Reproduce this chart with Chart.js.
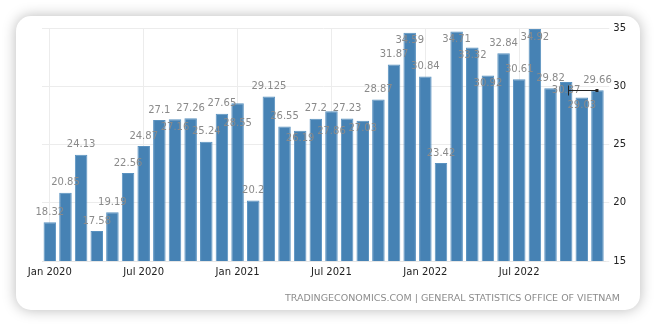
<!DOCTYPE html>
<html>
<head>
<meta charset="utf-8">
<script src="https://cdn.jsdelivr.net/npm/chart.js@4"></script>
<style>
  html, body { margin: 0; padding: 0; background: #fff; }
  #card {
    position: absolute; left: 16px; top: 16px; width: 624px; height: 294px;
    background: #fff; border-radius: 15px;
    box-shadow: 0 0 14px rgba(0,0,0,0.28);
  }
  #wrap { position: absolute; left: 0; top: 0; width: 624px; height: 294px; }
  #source {
    position: absolute; right: 20px; top: 276px;
    font: 9.5px "DejaVu Sans", sans-serif; color: #8c8c8c; white-space: nowrap;
  }
</style>
</head>
<body>
<div id="card">
  <div id="wrap"><canvas id="myChart"></canvas></div>
  <div id="source">TRADINGECONOMICS.COM | GENERAL STATISTICS OFFICE OF VIETNAM</div>
</div>
<script>
const months = [
  'Jan 2020', 'Feb 2020', 'Mar 2020', 'Apr 2020', 'May 2020', 'Jun 2020',
  'Jul 2020', 'Aug 2020', 'Sep 2020', 'Oct 2020', 'Nov 2020', 'Dec 2020',
  'Jan 2021', 'Feb 2021', 'Mar 2021', 'Apr 2021', 'May 2021', 'Jun 2021',
  'Jul 2021', 'Aug 2021', 'Sep 2021', 'Oct 2021', 'Nov 2021', 'Dec 2021',
  'Jan 2022', 'Feb 2022', 'Mar 2022', 'Apr 2022', 'May 2022', 'Jun 2022',
  'Jul 2022', 'Aug 2022', 'Sep 2022', 'Oct 2022', 'Nov 2022', 'Dec 2022'
];
const values = [
  18.32, 20.85, 24.13, 17.58, 19.19, 22.56,
  24.87, 27.1, 27.16, 27.26, 25.24, 27.65,
  28.55, 20.2, 29.125, 26.55, 26.19, 27.2,
  27.86, 27.23, 27.03, 28.87, 31.87, 34.59,
  30.84, 23.42, 34.71, 33.32, 30.92, 32.84,
  30.61, 34.92, 29.82, 30.37, 29.03, 29.66
];
const shownTicks = ['Jan 2020', 'Jul 2020', 'Jan 2021', 'Jul 2021', 'Jan 2022', 'Jul 2022'];
const yTicks = [15, 20, 25, 30, 35];

const labelFont = '10px "DejaVu Sans", sans-serif';

// value labels, pushed inside the bar when they would overlap a neighbour
const barLabels = {
  id: 'barLabels',
  afterDatasetsDraw(chart) {
    const ctx = chart.ctx;
    const area = chart.chartArea;
    const bars = chart.getDatasetMeta(0).data;
    const placed = [];
    ctx.save();
    ctx.font = labelFont;
    ctx.fillStyle = '#8a8a8a';
    ctx.textAlign = 'center';
    ctx.textBaseline = 'middle';
    bars.forEach((bar, i) => {
      const txt = String(values[i]);
      const w = ctx.measureText(txt).width;
      const tries = [bar.y - 10, bar.y + 8, bar.y + 20].filter(t => t - 6 >= area.top);
      let y = tries[0];
      for (const t of tries) {
        const hit = placed.some(p => Math.abs(p.x - bar.x) < (p.w + w) / 2 && Math.abs(p.y - t) < 11);
        if (!hit) { y = t; break; }
      }
      placed.push({ x: bar.x, y: y, w: w });
      ctx.fillText(txt, bar.x, y);
    });

    // last value marker
    const last = bars[bars.length - 1];
    const ly = Math.round(last.y) + 0.5;
    ctx.strokeStyle = '#222';
    ctx.lineWidth = 1;
    ctx.beginPath();
    ctx.moveTo(last.x - 29, ly);
    ctx.lineTo(last.x, ly);
    ctx.moveTo(Math.round(last.x - 29) + 0.5, ly - 5);
    ctx.lineTo(Math.round(last.x - 29) + 0.5, ly + 5);
    ctx.stroke();
    ctx.fillStyle = '#222';
    ctx.fillRect(last.x - 2, ly - 1.5, 3, 3);
    ctx.restore();
  }
};

new Chart(document.getElementById('myChart'), {
  type: 'bar',
  data: {
    labels: months,
    datasets: [{
      data: values,
      backgroundColor: '#4682b4',
      borderColor: '#5a92c0',
      borderWidth: 1,
      barPercentage: 0.8,
      categoryPercentage: 1
    }]
  },
  options: {
    responsive: true,
    maintainAspectRatio: false,
    animation: false,
    layout: { padding: { left: 26, right: 10, top: 12, bottom: 27 } },
    plugins: { legend: { display: false }, tooltip: { enabled: false } },
    scales: {
      x: {
        grid: {
          color: c => shownTicks.includes(months[c.index]) ? '#ececec' : 'rgba(0,0,0,0)',
          drawTicks: false,
          offset: false
        },
        border: { display: true, color: '#e6e6e6' },
        ticks: {
          autoSkip: false,
          maxRotation: 0,
          padding: 5,
          color: '#222',
          font: { family: 'DejaVu Sans', size: 10 },
          callback: (v, i) => shownTicks.includes(months[i]) ? months[i] : ''
        }
      },
      y: {
        position: 'right',
        min: yTicks[0],
        max: yTicks[yTicks.length - 1],
        afterBuildTicks: axis => { axis.ticks = yTicks.map(v => ({ value: v })); },
        grid: { color: '#ececec', tickLength: 4 },
        border: { display: false },
        ticks: {
          padding: 4,
          color: '#222',
          font: { family: 'DejaVu Sans', size: 10 }
        }
      }
    }
  },
  plugins: [barLabels]
});
</script>
</body>
</html>
